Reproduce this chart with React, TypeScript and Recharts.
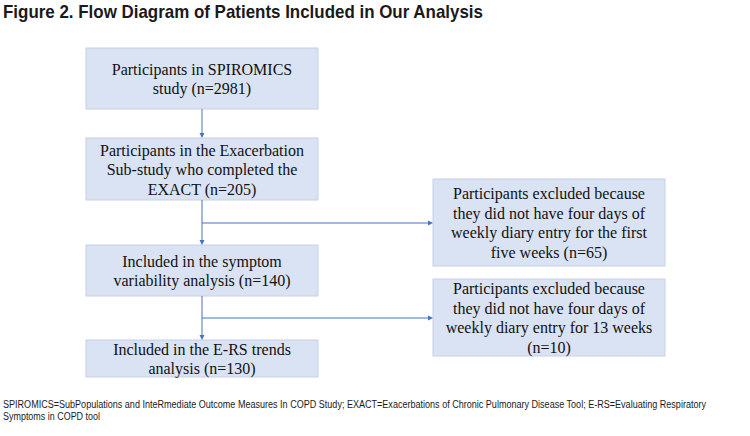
import { ComposedChart, XAxis, YAxis, ReferenceArea, ReferenceLine } from "recharts";

// flow stages (main column) and exclusions (right column)
const stageText = [
  ["Participants in SPIROMICS", "study"],
  ["Participants in the Exacerbation", "Sub-study who completed the", "EXACT"],
  ["Included in the symptom", "variability analysis"],
  ["Included in the E-RS trends", "analysis"],
];
const stageCounts = [2981, 205, 140, 130];

const exclusionText = [
  ["Participants excluded because", "they did not have four days of", "weekly diary entry for the first", "five weeks"],
  ["Participants excluded because", "they did not have four days of", "weekly diary entry for 13 weeks", ""],
];
const exclusionCounts = [65, 10];

const title = "Figure 2. Flow Diagram of Patients Included in Our Analysis";
const footnote = [
  "SPIROMICS=SubPopulations and InteRmediate Outcome Measures In COPD Study; EXACT=Exacerbations of Chronic Pulmonary Disease Tool; E-RS=Evaluating Respiratory",
  "Symptoms in COPD tool",
];

// layout (diagram units = pixels)
const W = 750;
const H = 436;
const mainX: [number, number] = [86, 318];
const mainY: [number, number][] = [[48, 109], [138, 200], [245, 296], [340, 377]];
const sideX: [number, number] = [433, 665];
const sideY: [number, number][] = [[179, 266], [279, 356]];
const branchY = [223, 318];
const spineX = 202;

const FILL = "#dae3f3";
const EDGE = "#c6d0e3";
const ARROW = "#4472c4";
const LINE_H = 19.5;
const NARROW = "'Liberation Sans Narrow', 'Arial Narrow', 'Liberation Sans', Arial, sans-serif";

function withCount(lines: string[], n: number) {
  const out = lines.slice();
  const last = out[out.length - 1];
  out[out.length - 1] = (last ? last + " " : "") + `(n=${n})`;
  return out;
}

const boxShape = (lines: string[]) => (p: any) => {
  const cx = p.x + p.width / 2;
  const cy = p.y + p.height / 2;
  const y0 = cy - ((lines.length - 1) * LINE_H) / 2 + 6;
  return (
    <g>
      <rect x={p.x} y={p.y} width={p.width} height={p.height} fill={FILL} stroke={EDGE} strokeWidth={1} />
      {lines.map((t, i) => (
        <text
          key={i}
          x={cx}
          y={y0 + i * LINE_H}
          textAnchor="middle"
          fontFamily="'Liberation Serif', 'Times New Roman', serif"
          fontSize={16}
          fill="#111"
        >
          {t}
        </text>
      ))}
    </g>
  );
};

const arrowShape = (p: any) => {
  const { x1, y1, x2, y2 } = p;
  const a = Math.atan2(y2 - y1, x2 - x1);
  const L = 5;
  const w = 2.5;
  const bx = x2 - L * Math.cos(a);
  const by = y2 - L * Math.sin(a);
  const px = -Math.sin(a) * w;
  const py = Math.cos(a) * w;
  return (
    <g>
      <line x1={x1} y1={y1} x2={bx} y2={by} stroke={ARROW} strokeWidth={1} />
      <polygon points={`${x2},${y2} ${bx + px},${by + py} ${bx - px},${by - py}`} fill={ARROW} />
    </g>
  );
};

export default function App() {
  return (
    <div style={{ position: "absolute", left: 0, top: 0, width: W, height: H, background: "#fff" }}>
      <ComposedChart width={W} height={H} data={[]} margin={{ top: 0, right: 0, bottom: 0, left: 0 }}>
        <XAxis type="number" dataKey="x" domain={[0, W]} hide allowDataOverflow />
        <YAxis type="number" dataKey="y" domain={[0, H]} reversed hide allowDataOverflow />
        {mainY.slice(0, -1).map((yy, i) => (
          <ReferenceLine
            key={`v${i}`}
            segment={[{ x: spineX, y: yy[1] }, { x: spineX, y: mainY[i + 1][0] }]}
            shape={arrowShape}
            ifOverflow="visible"
          />
        ))}
        {branchY.map((by, i) => (
          <ReferenceLine
            key={`h${i}`}
            segment={[{ x: spineX, y: by }, { x: sideX[0], y: by }]}
            shape={arrowShape}
            ifOverflow="visible"
          />
        ))}
        {stageText.map((lines, i) => (
          <ReferenceArea
            key={`s${i}`}
            x1={mainX[0]}
            x2={mainX[1]}
            y1={mainY[i][0]}
            y2={mainY[i][1]}
            ifOverflow="visible"
            shape={boxShape(withCount(lines, stageCounts[i]))}
          />
        ))}
        {exclusionText.map((lines, i) => (
          <ReferenceArea
            key={`e${i}`}
            x1={sideX[0]}
            x2={sideX[1]}
            y1={sideY[i][0]}
            y2={sideY[i][1]}
            ifOverflow="visible"
            shape={boxShape(withCount(lines, exclusionCounts[i]))}
          />
        ))}
      </ComposedChart>
      <svg width={W} height={H} style={{ position: "absolute", left: 0, top: 0, pointerEvents: "none" }}>
        <text
          x={3}
          y={17.5}
          fontFamily={NARROW}
          fontWeight="bold"
          fontSize={19}
          fill="#1a1a1a"
          textLength={480}
          lengthAdjust="spacingAndGlyphs"
        >
          {title}
        </text>
        <text x={3} y={408} fontFamily={NARROW} fontSize={10} fill="#1a1a1a" textLength={703} lengthAdjust="spacingAndGlyphs">
          {footnote[0]}
        </text>
        <text x={3} y={419.5} fontFamily={NARROW} fontSize={10} fill="#1a1a1a" textLength={97} lengthAdjust="spacingAndGlyphs">
          {footnote[1]}
        </text>
      </svg>
    </div>
  );
}
